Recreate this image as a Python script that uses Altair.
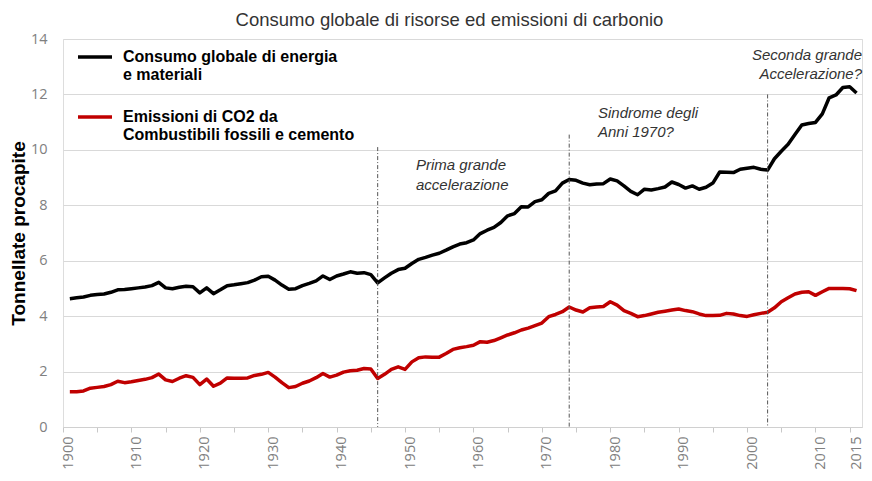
import altair as alt
import pandas as pd

# ---------------- data ----------------
years = list(range(1901, 2017))

consumo = [
    4.63, 4.66, 4.69, 4.75, 4.78, 4.80, 4.86, 4.95, 4.96, 4.99,
    5.02, 5.05, 5.10, 5.22, 5.02, 4.99, 5.04, 5.08, 5.06, 4.84,
    5.02, 4.81, 4.95, 5.10, 5.13, 5.17, 5.21, 5.30, 5.42, 5.44,
    5.30, 5.12, 4.97, 4.99, 5.10, 5.18, 5.27, 5.45, 5.32, 5.45,
    5.52, 5.60, 5.55, 5.57, 5.50, 5.20, 5.38, 5.55, 5.68, 5.73,
    5.90, 6.05, 6.12, 6.20, 6.27, 6.38, 6.50, 6.60, 6.65, 6.75,
    6.98, 7.10, 7.20, 7.38, 7.62, 7.70, 7.95, 7.94, 8.13, 8.20,
    8.43, 8.52, 8.80, 8.93, 8.90, 8.80, 8.74, 8.77, 8.78, 8.95,
    8.88, 8.70, 8.50, 8.38, 8.58, 8.55, 8.60, 8.66, 8.84, 8.75,
    8.62, 8.70, 8.58, 8.65, 8.80, 9.20, 9.19, 9.18, 9.30, 9.34,
    9.37, 9.30, 9.27, 9.68, 9.95, 10.20, 10.55, 10.90, 10.95, 10.99,
    11.30, 11.88, 11.98, 12.25, 12.28, 12.05,
]

emissioni = [
    1.27, 1.27, 1.30, 1.40, 1.43, 1.46, 1.53, 1.65, 1.60, 1.63,
    1.68, 1.72, 1.78, 1.91, 1.70, 1.64, 1.76, 1.85, 1.79, 1.53,
    1.73, 1.47, 1.58, 1.77, 1.76, 1.76, 1.77, 1.86, 1.90, 1.97,
    1.80, 1.60, 1.42, 1.46, 1.58, 1.66, 1.78, 1.93, 1.80, 1.87,
    1.98, 2.03, 2.05, 2.11, 2.09, 1.75, 1.90, 2.08, 2.17, 2.08,
    2.35, 2.50, 2.53, 2.52, 2.52, 2.65, 2.80, 2.86, 2.90, 2.95,
    3.08, 3.06, 3.12, 3.22, 3.32, 3.40, 3.50, 3.57, 3.66, 3.75,
    3.98, 4.06, 4.16, 4.33, 4.22, 4.15, 4.30, 4.33, 4.35, 4.52,
    4.40, 4.20, 4.10, 3.98, 4.02, 4.08, 4.14, 4.18, 4.22, 4.26,
    4.20, 4.16, 4.08, 4.02, 4.02, 4.03, 4.10, 4.08, 4.02, 3.99,
    4.05, 4.10, 4.14, 4.30, 4.52, 4.66, 4.80, 4.86, 4.88, 4.75,
    4.88, 5.00, 5.00, 5.00, 4.99, 4.92,
]

series_names = ["Consumo", "Emissioni"]
series_colors = ["#000000", "#c00000"]

event_years = [1946, 1974, 2003]
event_tops = [10.1, 10.55, 12.0]

x_ticks = list(range(1900, 2016, 5))
y_ticks = list(range(0, 15, 2))

title_text = "Consumo globale di risorse ed emissioni di carbonio"
legend_1 = ["Consumo globale di energia", "e materiali"]
legend_2 = ["Emissioni di CO2 da", "Combustibili fossili e cemento"]
note_1 = ["Prima grande", "accelerazione"]
note_2 = ["Sindrome degli", "Anni 1970?"]
note_3 = ["Seconda grande", "Accelerazione?"]

# ---------------- tables ----------------
df = pd.DataFrame({
    "Anno": years * 2,
    "Valore": consumo + emissioni,
    "Serie": [series_names[0]] * len(years) + [series_names[1]] * len(years),
})
events = pd.DataFrame({"Anno": event_years, "Valore": event_tops})
one = alt.Data(values=[{}])

FONT = "Liberation Sans"
LBL_FONT = "Open Sans"

x_scale = alt.Scale(domain=[1900, 2016.8], nice=False, zero=False)
y_scale = alt.Scale(domain=[0, 14], nice=False)

x_enc = alt.X(
    "Anno:Q",
    scale=x_scale,
    axis=alt.Axis(
        values=x_ticks,
        format="d",
        labelExpr="datum.value % 10 == 0 || datum.value == 2015 ? datum.label : ''",
        labelAngle=-90,
        labelOffset={"condition": {"test": "datum.value == 2015", "value": 7}, "value": 5},
        labelFont=LBL_FONT,
        labelFontSize=14.5,
        labelColor="#808080",
        labelPadding=4,
        tickSize=5,
        tickColor="#c8c8c8",
        domainColor="#d0d0d0",
        grid=False,
        labelOverlap=False,
        labelBound=False,
    ),
    title=None,
)

y_enc = alt.Y(
    "Valore:Q",
    scale=y_scale,
    axis=alt.Axis(
        values=y_ticks,
        grid=True,
        gridColor="#d9d9d9",
        domain=False,
        ticks=False,
        labelFont=LBL_FONT,
        labelFontSize=14.5,
        labelColor="#808080",
        labelPadding=16,
        title="Tonnellate procapite",
        titleFont=FONT,
        titleFontSize=19,
        titleFontWeight="bold",
        titleColor="#000000",
        titlePadding=2,
    ),
)

lines = alt.Chart(df).mark_line(strokeWidth=3.5, strokeJoin="round").encode(
    x=x_enc,
    y=y_enc,
    color=alt.Color("Serie:N", scale=alt.Scale(domain=series_names, range=series_colors), legend=None),
)

rules = alt.Chart(events).mark_rule(
    color="#555555", strokeWidth=1, strokeDash=[4, 2, 1, 2]
).encode(
    x=x_enc,
    y=y_enc,
    y2=alt.datum(0),
)

def legend_line(y, color):
    return alt.Chart(one).mark_rule(strokeWidth=3.5, color=color).encode(
        x=alt.value(15), x2=alt.value(49), y=alt.value(y)
    )

def text_block(lines_, x, y, align, weight, style, size, color, lh):
    return alt.Chart(one).mark_text(
        align=align, baseline="middle", font=FONT, fontSize=size,
        fontWeight=weight, fontStyle=style, color=color, lineHeight=lh,
    ).encode(x=alt.value(x), y=alt.value(y), text=alt.value(lines_))

layers = [
    lines,
    rules,
    legend_line(18, series_colors[0]),
    legend_line(78, series_colors[1]),
    text_block(legend_1, 60, 18, "left", "bold", "normal", 16, "#000000", 18),
    text_block(legend_2, 60, 78, "left", "bold", "normal", 16, "#000000", 18),
    text_block(note_1, 353, 126, "left", "normal", "italic", 15, "#333333", 20),
    text_block(note_2, 535, 74, "left", "normal", "italic", 15, "#333333", 19),
    text_block(note_3, 799, 16, "right", "normal", "italic", 15, "#333333", 19),
]

chart = alt.layer(*layers).properties(
    width=799,
    height=388,
    autosize=alt.AutoSizeParams(type="none"),
    padding={"left": 55, "top": 31, "right": 2, "bottom": 46},
    title=alt.TitleParams(
        title_text, font=FONT, fontSize=18.5, fontWeight="normal",
        color="#333333", anchor="middle", dx=-13, offset=2, frame="group",
    ),
).configure_view(stroke=None).configure(background="white")

chart.save("out.html", embed_options={"renderer": "svg", "actions": False})
